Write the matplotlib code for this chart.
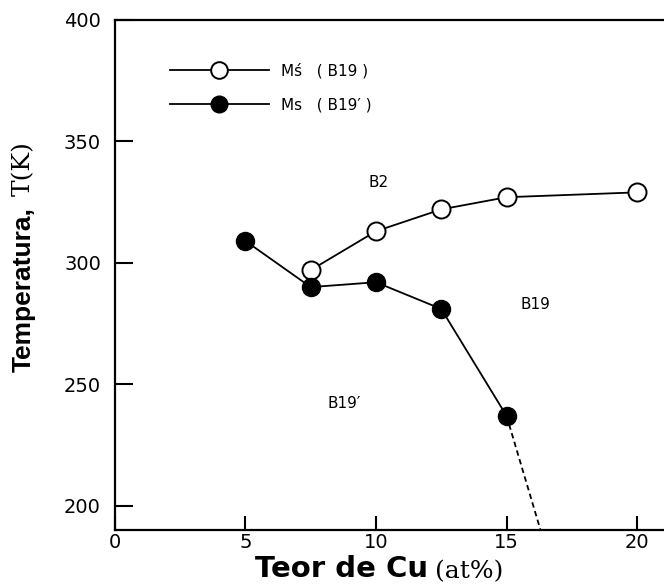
import matplotlib.pyplot as plt
from matplotlib.lines import Line2D

# Cu content (at%) and transformation temperatures (K)
cu_open = [7.5, 10, 12.5, 15, 20]
ms_b19 = [297, 313, 322, 327, 329]

cu_filled = [5, 7.5, 10, 12.5, 15]
ms_b19p = [309, 290, 292, 281, 237]

# dashed extrapolation of Ms (B19')
cu_dash = [15, 16.3]
ms_dash = [237, 190]

xticks = [0, 5, 10, 15, 20]
yticks = [200, 250, 300, 350, 400]

phase_labels = ["B2", "B19", "B19\u2032"]
phase_x = [10.1, 16.1, 8.8]
phase_y = [333, 283, 242]

fig = plt.figure(figsize=(6.64, 5.85), dpi=100)
ax = fig.add_axes([0.173, 0.094, 0.827, 0.872])

ax.plot(cu_open, ms_b19, color="black", lw=1.3, marker="o", ms=13,
        mfc="white", mec="black", mew=1.4, zorder=3)
ax.plot(cu_filled, ms_b19p, color="black", lw=1.3, marker="o", ms=13,
        mfc="black", mec="black", zorder=3)
ax.plot(cu_dash, ms_dash, color="black", lw=1.3, ls=(0, (3, 2)), zorder=2)

for lab, x, y in zip(phase_labels, phase_x, phase_y):
    ax.text(x, y, lab, fontsize=11, ha="center", va="center")

ax.set_xlim(0, 21.03)
ax.set_ylim(190, 400)
ax.set_xticks(xticks)
ax.set_yticks(yticks)
ax.tick_params(direction="in", length=10, width=1.5, labelsize=14)
ax.tick_params(axis="x", pad=2)
ax.tick_params(axis="y", pad=10, length=13)
ax.spines["right"].set_visible(False)
for s in ["left", "top", "bottom"]:
    ax.spines[s].set_linewidth(1.6)

handles = [
    Line2D([], [], color="black", lw=1.3, marker="o", ms=12, mfc="white", mec="black", mew=1.4),
    Line2D([], [], color="black", lw=1.3, marker="o", ms=12, mfc="black", mec="black"),
]
ax.legend(handles, ["M\u015b   ( B19 )", "Ms   ( B19\u2032 )"], loc="upper left",
          bbox_to_anchor=(0.10, 0.915), frameon=False, fontsize=11,
          borderpad=0, borderaxespad=0,
          handlelength=6.5, handletextpad=0.8, labelspacing=1.2)

# axis labels with mixed fonts
fig.text(0.384, 0.003, "Teor de Cu", fontsize=21, fontweight="bold", ha="left", va="bottom")
fig.text(0.655, 0.003, "(at%)", fontsize=18, family="DejaVu Serif", ha="left", va="bottom")
fig.text(0.036, 0.364, "Temperatura,", fontsize=19, fontweight="bold", rotation=90,
         ha="center", va="bottom", family="Liberation Sans")
fig.text(0.036, 0.665, "T(K)", fontsize=18, rotation=90, ha="center", va="bottom",
         family="DejaVu Serif")

fig.savefig("out.png", dpi=100)
